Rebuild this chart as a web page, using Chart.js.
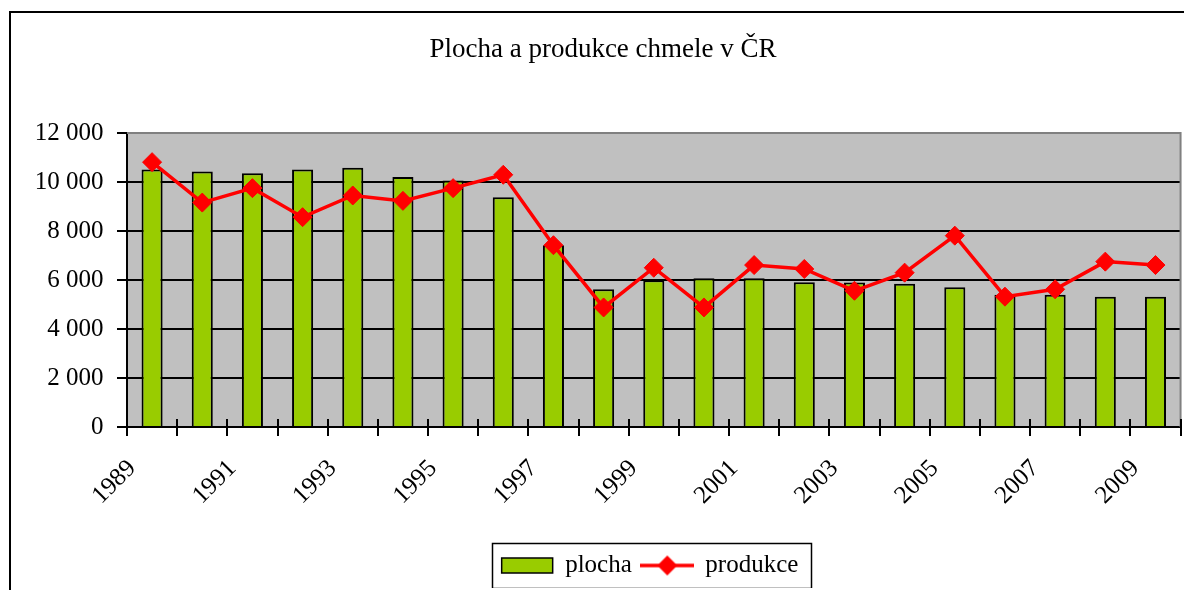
<!DOCTYPE html>
<html><head><meta charset="utf-8">
<script src="https://cdn.jsdelivr.net/npm/chart.js@4/dist/chart.umd.min.js"></script>
<style>
html,body{margin:0;padding:0;background:#fff;overflow:hidden;width:1184px;height:590px;}
#frame{position:absolute;left:9px;top:11px;width:1190px;height:640px;border:2px solid #000;background:#fff;}
#c{position:absolute;left:0;top:0;}
</style></head><body>
<div id="frame"><canvas id="c" width="1184" height="575"></canvas></div>
<script>
const chartTitle = 'Plocha a produkce chmele v ČR';
const years = ['1989','1990','1991','1992','1993','1994','1995','1996','1997','1998','1999','2000','2001','2002','2003','2004','2005','2006','2007','2008','2009'];
const plocha = [10510, 10430, 10360, 10510, 10580, 10200, 10060, 9380, 7420, 5620, 5990, 6070, 6070, 5910, 5900, 5850, 5700, 5400, 5400, 5320, 5320];
const produkce = [10810, 9160, 9750, 8565, 9450, 9230, 9750, 10295, 7420, 4880, 6500, 4880, 6610, 6450, 5560, 6300, 7810, 5320, 5620, 6750, 6610];
const seriesNames = ['plocha', 'produkce'];
const yMin = 0, yMax = 12000, yStep = 2000;

const FONT = 'Liberation Serif, Times New Roman, serif';
const LEGEND_SHIFT = 47;

function fmtThousands(v) {
  return String(v).replace(/\B(?=(\d{3})+(?!\d))/g, '\u00a0');
}

// legend icon for line series: line with diamond
const lineIcon = document.createElement('canvas');
lineIcon.width = 54; lineIcon.height = 22;
(function () {
  const g = lineIcon.getContext('2d');
  g.strokeStyle = '#FF0000'; g.lineWidth = 3.5;
  g.beginPath(); g.moveTo(0, 11); g.lineTo(54, 11); g.stroke();
  g.fillStyle = '#FF0000';
  g.beginPath(); g.moveTo(27 - 10, 11); g.lineTo(27, 1); g.lineTo(27 + 10, 11); g.lineTo(27, 21); g.closePath(); g.fill();
})();

const deco = {
  id: 'deco',
  afterLayout(chart) {
    const lg = chart.legend;
    if (lg) { lg.left += LEGEND_SHIFT; lg.right += LEGEND_SHIFT; }
  },
  beforeDraw(chart) {
    const {ctx, chartArea: a} = chart;
    ctx.save();
    ctx.fillStyle = '#C0C0C0';
    ctx.fillRect(a.left, a.top, a.right - a.left, a.bottom - a.top);
    ctx.restore();
  },
  beforeDatasetsDraw(chart) {
    const {ctx, chartArea: a} = chart;
    ctx.save();
    ctx.strokeStyle = '#808080'; ctx.lineWidth = 2;
    ctx.beginPath();
    ctx.moveTo(a.left, a.top); ctx.lineTo(a.right, a.top); ctx.lineTo(a.right, a.bottom);
    ctx.stroke();
    ctx.restore();
  },
  afterDatasetsDraw(chart) {
    const {ctx} = chart;
    const xs = chart.scales.x;
    const half = (xs.getPixelForValue(1) - xs.getPixelForValue(0)) / 2;
    ctx.save();
    ctx.strokeStyle = '#000'; ctx.lineWidth = 2;
    ctx.beginPath();
    for (let i = 0; i <= years.length; i++) {
      const x = Math.round(xs.getPixelForValue(i) - half);
      ctx.moveTo(x, xs.top - 8); ctx.lineTo(x, xs.top);
    }
    ctx.stroke();
    ctx.restore();
  },
  afterDraw(chart) {
    const lg = chart.legend;
    if (!lg || !lg.legendHitBoxes || !lg.legendHitBoxes.length) return;
    const hb = lg.legendHitBoxes;
    let l = Infinity, r = -Infinity, t = Infinity;
    hb.forEach(h => { l = Math.min(l, h.left); r = Math.max(r, h.left + h.width); t = Math.min(t, h.top); });
    const ctx = chart.ctx;
    ctx.save();
    ctx.strokeStyle = '#000'; ctx.lineWidth = 1.5;
    ctx.strokeRect(Math.round(l - 10) + 0.5, Math.round(t - 10) + 0.5, Math.round(r - l + 22), 45);
    ctx.restore();
  }
};

new Chart(document.getElementById('c'), {
  data: {
    labels: years,
    datasets: [
      {
        type: 'bar', label: seriesNames[0], data: plocha,
        backgroundColor: '#99CC00', borderColor: '#000000', borderWidth: 2,
        barPercentage: 0.42, categoryPercentage: 1.0, order: 1, pointStyle: 'rect'
      },
      {
        type: 'line', label: seriesNames[1], data: produkce,
        borderColor: '#FF0000', backgroundColor: '#FF0000', borderWidth: 3.5,
        pointStyle: 'rectRot', pointRadius: 9.5, pointBorderWidth: 1,
        pointBackgroundColor: '#FF0000', pointBorderColor: '#FF0000',
        tension: 0, order: 0
      }
    ]
  },
  options: {
    responsive: false,
    animation: false,
    devicePixelRatio: 1,
    layout: { padding: 0 },
    plugins: {
      tooltip: { enabled: false },
      title: {
        display: true, text: chartTitle, color: '#000',
        font: { family: FONT, size: 27, weight: 'normal', lineHeight: 1.2 },
        padding: { top: 20.8, bottom: 66.8 }
      },
      legend: {
        display: true, position: 'bottom', align: 'center',
        labels: {
          color: '#000', font: { family: FONT, size: 25 },
          usePointStyle: true, pointStyleWidth: 51, boxHeight: 15, padding: 10,
          sort: (a, b) => a.datasetIndex - b.datasetIndex,
          generateLabels(chart) {
            const items = Chart.defaults.plugins.legend.labels.generateLabels(chart);
            items.forEach(it => {
              if (it.datasetIndex === 1) { it.pointStyle = lineIcon; }
              else { it.pointStyle = 'rect'; it.fillStyle = '#99CC00'; it.strokeStyle = '#000'; it.lineWidth = 1.5; }
            });
            return items;
          }
        }
      }
    },
    scales: {
      x: {
        type: 'category', offset: true,
        grid: { offset: true, drawOnChartArea: false, tickLength: 9, color: '#000', tickColor: '#000', lineWidth: 2 },
        border: { color: '#000', width: 2 },
        ticks: {
          autoSkip: false, minRotation: 45, maxRotation: 45, color: '#000', padding: 18, labelOffset: -20,
          font: { family: FONT, size: 25 },
          callback: (v, i) => (i % 2 === 0 ? years[i] : '')
        },
        afterFit(s) { s.height = 116; }
      },
      y: {
        type: 'linear', position: 'left', min: yMin, max: yMax,
        grid: {
          color: c => (c.tick && c.tick.value === yMax ? 'rgba(0,0,0,0)' : '#000'),
          tickColor: '#000', lineWidth: 2, tickLength: 10
        },
        border: { color: '#000', width: 2 },
        ticks: {
          stepSize: yStep, color: '#000', padding: 13.5,
          font: { family: FONT, size: 25 },
          callback: v => fmtThousands(v)
        },
        afterFit(s) { s.width = 116; }
      },
      yR: {
        type: 'linear', position: 'right', display: true,
        grid: { display: false }, border: { display: false }, ticks: { display: false },
        afterFit(s) { s.width = 13; }
      }
    }
  },
  plugins: [deco]
});
</script>
</body></html>
